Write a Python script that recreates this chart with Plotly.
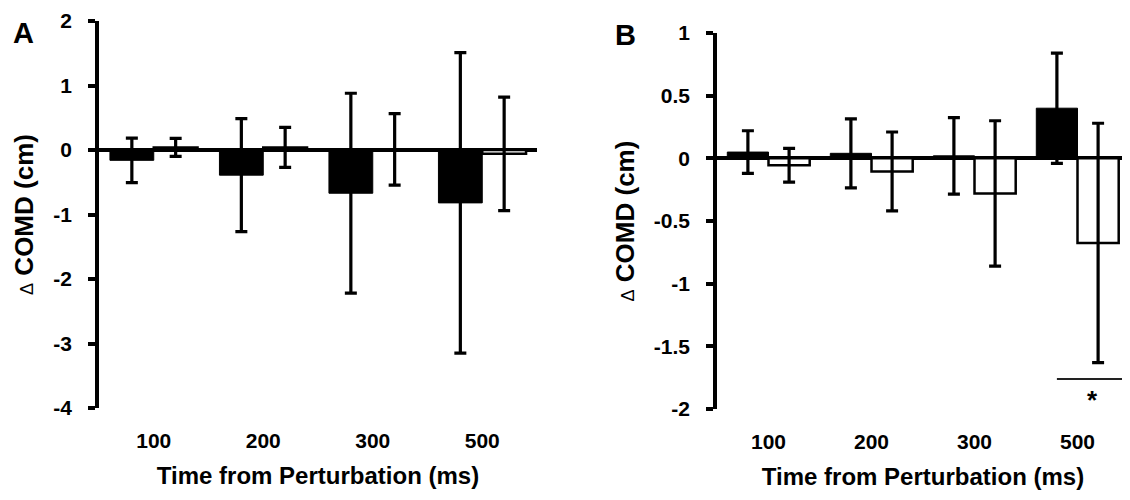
import plotly.graph_objects as go

# ---- data ----
times = ["100", "200", "300", "500"]

a_filled = [-0.16, -0.39, -0.67, -0.82]
a_filled_err = [0.345, 0.875, 1.55, 2.33]
a_open = [0.04, 0.04, 0.01, -0.06]
a_open_err = [0.14, 0.31, 0.555, 0.88]

b_filled = [0.05, 0.04, 0.02, 0.40]
b_filled_err = [0.17, 0.275, 0.305, 0.44]
b_open = [-0.055, -0.105, -0.28, -0.675]
b_open_err = [0.135, 0.315, 0.58, 0.955]

a_tickvals = [2, 1, 0, -1, -2, -3, -4]
a_ticktext = ["2", "1", "0", "-1", "-2", "-3", "-4"]
b_tickvals = [1, 0.5, 0, -0.5, -1, -1.5, -2]
b_ticktext = ["1", "0.5", "0", "-0.5", "-1", "-1.5", "-2"]

FONT = "Liberation Sans, Arial, sans-serif"

# page body has an 8px margin; the figure is sized to fit the window exactly
W, H = 1122, 492

fig = go.Figure()

def add_pair(filled, ferr, opened, oerr, xa, ya):
    fig.add_trace(go.Bar(
        x=times, y=filled, xaxis=xa, yaxis=ya,
        marker=dict(color="black", line=dict(color="black", width=1)),
        error_y=dict(type="data", array=ferr, color="black", thickness=3.2, width=6),
        showlegend=False, hoverinfo="skip"))
    fig.add_trace(go.Bar(
        x=times, y=opened, xaxis=xa, yaxis=ya,
        marker=dict(color="white", line=dict(color="black", width=2.5)),
        error_y=dict(type="data", array=oerr, color="black", thickness=3.2, width=6),
        showlegend=False, hoverinfo="skip"))

add_pair(a_filled, a_filled_err, a_open, a_open_err, "x", "y")
add_pair(b_filled, b_filled_err, b_open, b_open_err, "x2", "y2")

tickfont = dict(family=FONT, size=21, color="black", weight="bold")
titlefont = dict(family=FONT, size=24, color="black", weight="bold")
ytitlefont = dict(family=FONT, size=26, color="black", weight="bold")

xcommon = dict(
    type="category", showline=False, showgrid=False, zeroline=False,
    ticks="", tickfont=tickfont, ticklabelstandoff=18, automargin=False,
    title=dict(text="Time from Perturbation (ms)", font=titlefont, standoff=16),
)
ycommon = dict(
    showline=True, linecolor="black", linewidth=3.5, showgrid=False,
    zeroline=True, zerolinecolor="black", zerolinewidth=3.5,
    ticks="outside", ticklen=7, tickwidth=3.5, tickcolor="black",
    tickfont=tickfont, ticklabelstandoff=12, automargin=False,
    ticklabeloverflow="allow",
    title=dict(text="<span style='font-size:18px;font-weight:normal'>\u0394</span> COMD (cm)",
               font=ytitlefont, standoff=13),
)

fig.update_layout(
    width=W, height=H,
    margin=dict(l=0, r=0, t=0, b=0),
    paper_bgcolor="white", plot_bgcolor="white",
    barmode="group", bargap=0.2, bargroupgap=0,
    font=dict(family=FONT, color="black"),
    xaxis=dict(domain=[91 / W, 529 / W], anchor="y", **xcommon),
    yaxis=dict(domain=[1 - 400 / H, 1 - 13 / H], anchor="x", range=[-4, 2],
               tickvals=a_tickvals, ticktext=a_ticktext, **ycommon),
    xaxis2=dict(domain=[709 / W, 1121 / W], anchor="y2", **xcommon),
    yaxis2=dict(domain=[1 - 401 / H, 1 - 25 / H], anchor="x2", range=[-2, 1],
                tickvals=b_tickvals, ticktext=b_ticktext, **ycommon),
    showlegend=False,
)

# significance bracket under the 500 ms open bar in panel B
fig.add_shape(type="line", xref="x2", yref="y2", x0=2.80, x1=3.49, y0=-1.76, y1=-1.76,
              line=dict(color="#222222", width=2))
fig.add_annotation(text="<b>*</b>", xref="x2", yref="y2", x=3.15, y=-1.79,
                   yanchor="top", showarrow=False,
                   font=dict(family=FONT, size=26, color="black"))

# panel letters
fig.add_annotation(text="<b>A</b>", xref="paper", yref="paper", x=15 / W, y=1 - 25 / H,
                   xanchor="center", yanchor="middle", showarrow=False,
                   font=dict(family=FONT, size=29, color="black"))
fig.add_annotation(text="<b>B</b>", xref="paper", yref="paper", x=617 / W, y=1 - 27 / H,
                   xanchor="center", yanchor="middle", showarrow=False,
                   font=dict(family=FONT, size=29, color="black"))

fig.write_html("out.html")
